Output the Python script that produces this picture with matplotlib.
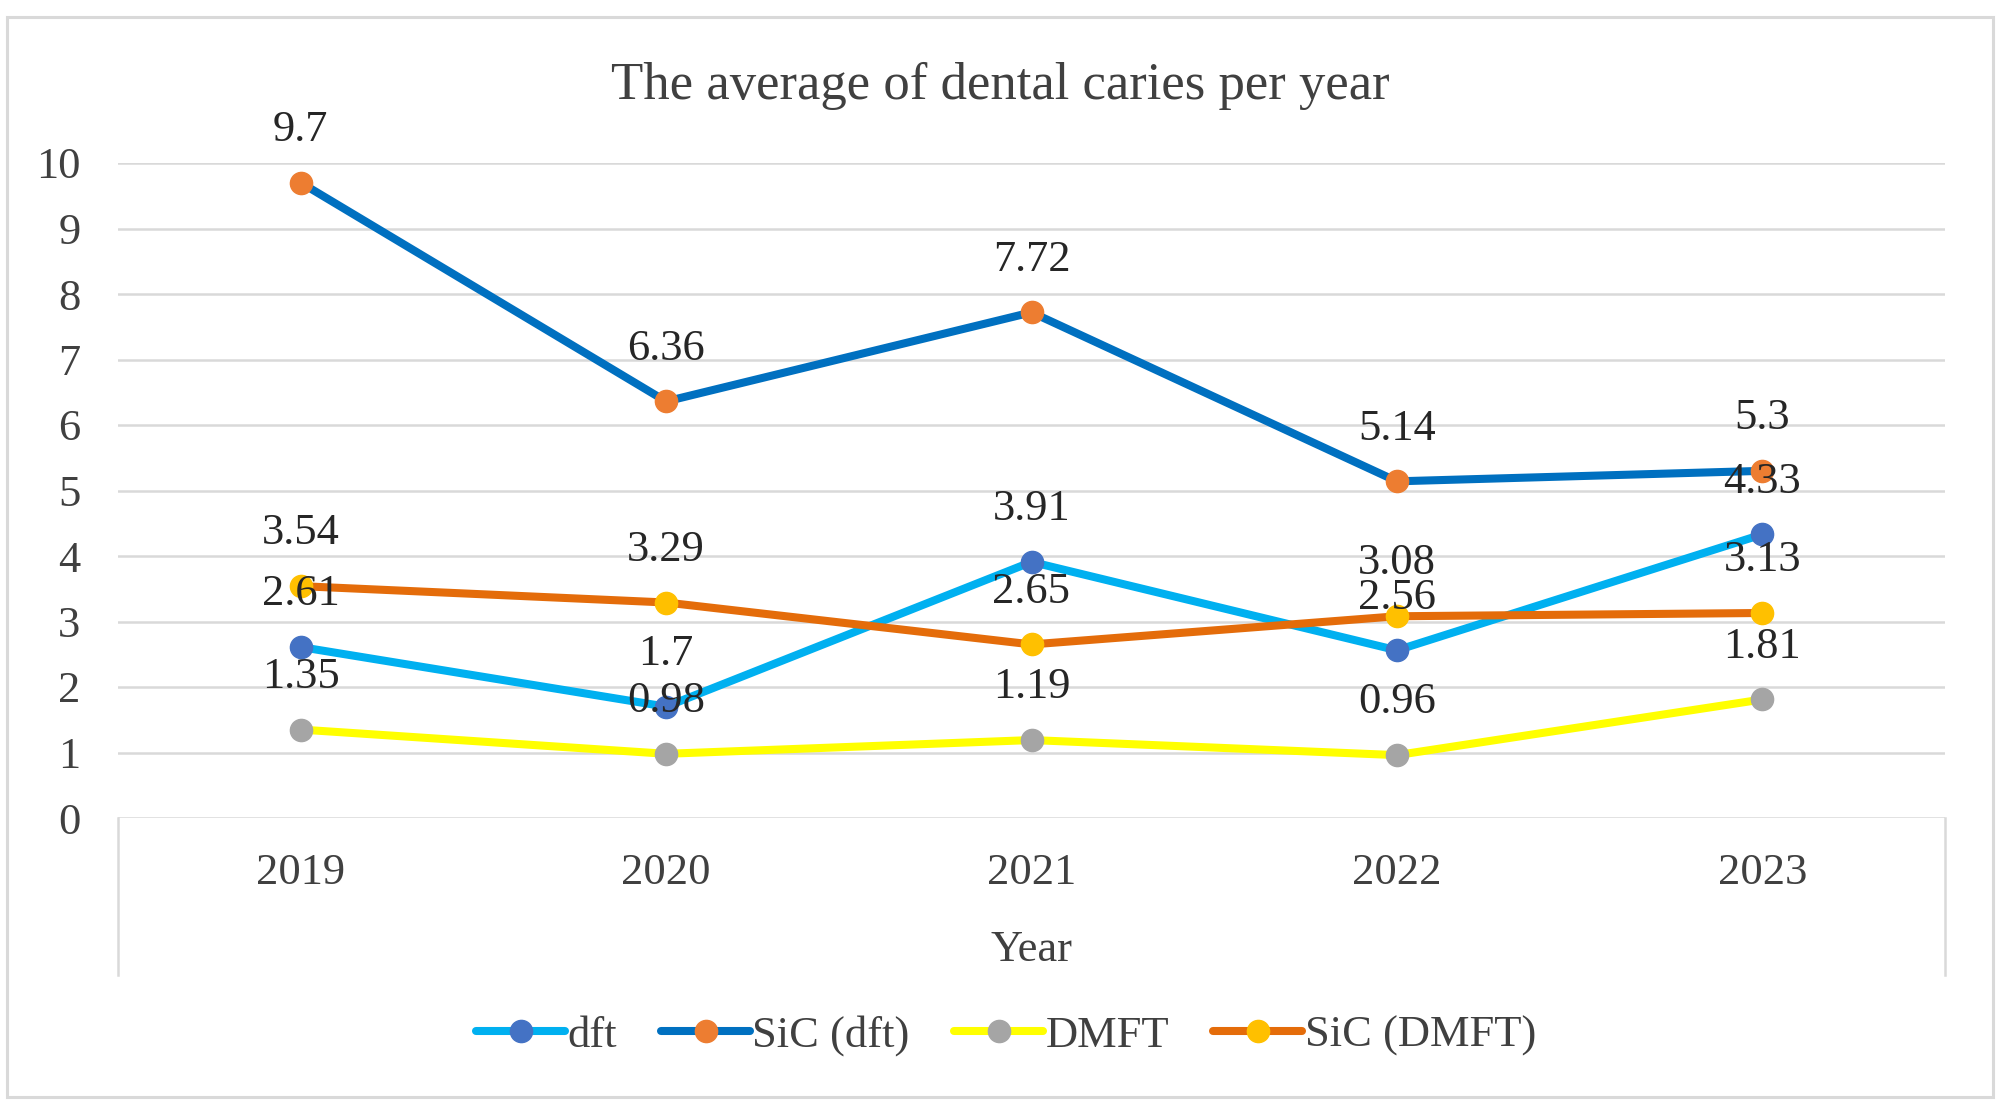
import matplotlib
matplotlib.use("Agg")
import matplotlib.pyplot as plt
from matplotlib.lines import Line2D
from matplotlib.patches import Rectangle

years = ["2019", "2020", "2021", "2022", "2023"]
dft = [2.61, 1.7, 3.91, 2.56, 4.33]
sic_dft = [9.7, 6.36, 7.72, 5.14, 5.3]
dmft = [1.35, 0.98, 1.19, 0.96, 1.81]
sic_dmft = [3.54, 3.29, 2.65, 3.08, 3.13]
series_names = ["dft", "SiC (dft)", "DMFT", "SiC (DMFT)"]
yticks = list(range(0, 11))

plt.rcParams['font.family'] = ['Liberation Serif', 'DejaVu Serif']

W, H = 2000, 1109
fig = plt.figure(figsize=(W / 100, H / 100), dpi=100)
fig.patch.set_facecolor('white')

grid_c = '#d9d9d9'
text_c = '#404040'
label_c = '#262626'
fs = 32

# outer chart border
fig.patches.append(Rectangle((7 / W, 1 - 1097 / H), (1993 - 7) / W, (1097 - 17) / H,
                             transform=fig.transFigure, fill=False,
                             edgecolor=grid_c, linewidth=2.2, zorder=0))

ax_l, ax_r = 118 / W, 1945 / W
ax_b, ax_t = 1 - 818 / H, 1 - 163 / H
ax = fig.add_axes([ax_l, ax_b, ax_r - ax_l, ax_t - ax_b])
ax.set_facecolor('none')

x = list(range(len(years)))
specs = [
    (dft, '#00B0F0', '#4472C4'),
    (sic_dft, '#0070C0', '#ED7D31'),
    (dmft, '#FFFF00', '#A5A5A5'),
    (sic_dmft, '#E46C0A', '#FFC000'),
]
handles = []
for (vals, lc, mc), name in zip(specs, series_names):
    h, = ax.plot(x, vals, color=lc, linewidth=5.8, marker='o', markersize=16,
                 markerfacecolor=mc, markeredgecolor=mc, label=name,
                 solid_capstyle='round', zorder=3)
    handles.append(h)
    for xi, v in zip(x, vals):
        ax.annotate(f"{v:g}", (xi, v), xytext=(0, 38), textcoords='offset points',
                    ha='center', va='center', fontsize=fs, color=label_c, zorder=5)

ax.set_xlim(-0.5, len(years) - 0.5)
ax.set_ylim(0, 10)
ax.set_yticks(yticks)
ax.set_yticklabels([str(t) for t in yticks])
ax.set_xticks(x)
ax.set_xticklabels(years)
ax.yaxis.grid(True, color=grid_c, linewidth=1.8)
ax.set_axisbelow(True)
for s in ax.spines.values():
    s.set_visible(False)
ax.tick_params(axis='y', length=0, pad=27, labelsize=fs, labelcolor=text_c)
ax.tick_params(axis='x', length=0, pad=25, labelsize=fs, labelcolor=text_c)

# plot-area side frame lines below axis
yb = 1 - 975 / H
for xx in (ax_l, ax_r):
    fig.add_artist(Line2D([xx, xx], [yb, ax_b], transform=fig.transFigure,
                          color=grid_c, linewidth=1.8))

fig.text((ax_l + ax_r) / 2, 1 - 950 / H, "Year", ha='center', va='center',
         fontsize=fs, color=text_c)
fig.text(0.5, 1 - 86 / H, "The average of dental caries per year", ha='center',
         va='center', fontsize=38, color=text_c)

leg = fig.legend(handles=handles, loc='center', bbox_to_anchor=(0.503, 1 - 1036 / H),
                 ncol=4, frameon=False, fontsize=fs, handlelength=2.0,
                 handletextpad=0.05, columnspacing=1.0, labelcolor=text_c)

fig.savefig("out.png", dpi=100, facecolor='white')
